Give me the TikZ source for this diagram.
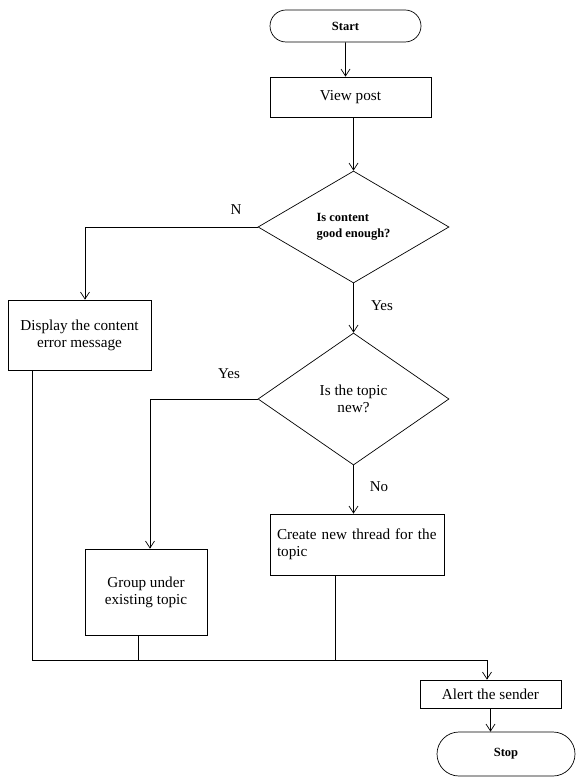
\documentclass[tikz,border=0pt]{standalone}
\usepackage{fontspec}
\setmainfont{Liberation Serif}
\usetikzlibrary{arrows.meta,shapes.geometric,shapes.misc}
\tikzset{
  every picture/.style={draw=black, text=black},
  box/.style={draw, rectangle, inner sep=0pt, font=\fontsize{15.2}{17}\selectfont},
  term/.style={draw, rounded rectangle, inner sep=0pt, font=\fontsize{12.5}{15}\selectfont\bfseries},
  decide/.style={draw, diamond, inner sep=0pt, minimum width=191pt},
  lbl/.style={font=\fontsize{15}{17}\selectfont},
  arr/.style={-{Straight Barb[length=7pt,width=9pt]}},
}
\begin{document}
\begin{tikzpicture}[x=1pt, y=-1pt, line width=0.7pt]
\useasboundingbox (0,0) rectangle (578,783);
% Start and first step
\node[term, minimum width=151pt, minimum height=32pt] (start) at (345.5,26) {Start};
\node[box, minimum width=161pt, minimum height=40pt] (view) at (350.5,97) {View post};
% Decisions
\node[decide, minimum height=112pt, align=left, font=\fontsize{12.5}{16}\selectfont\bfseries]
  (qgood) at (353.5,227) {Is content\\good enough?};
\node[decide, minimum height=132pt, align=center, font=\fontsize{15.2}{17}\selectfont]
  (qnew) at (353.5,399) {Is the topic\\new?};
% Actions
\node[box, minimum width=143pt, minimum height=70pt, align=center] (display) at (79.5,335)
  {Display the content\\error message};
\node[box, minimum width=122pt, minimum height=86pt, align=center] (group) at (146,592)
  {Group under\\existing topic};
\node[box, minimum width=174pt, minimum height=61pt, text width=160pt, align=left] (create) at (357,544.5)
  {Create new thread for the\\topic\\[2pt]};
\node[box, minimum width=141pt, minimum height=28pt] (alert) at (490.5,694) {Alert the sender};
\node[term, minimum width=138pt, minimum height=44pt] (stop) at (506,754) {Stop};
% Connectors
\draw[arr] (start) -- (start |- view.north);
\draw[arr] (qgood.north |- view.south) -- (qgood.north);
\draw[arr] (qgood.west) -| ([xshift=5.5pt]display.north);
\draw[arr] (qgood.south) -- (qnew.north);
\draw[arr] (qnew.west) -| ([xshift=4pt]group.north);
\draw[arr] (qnew.south) -- (qnew.south |- create.north);
% Merge line
\coordinate (join) at (487,660);
\draw ([xshift=25pt]display.south west) |- (join);
\draw ([xshift=54pt]group.south west) -- ([xshift=54pt]group.south west |- join);
\draw ([xshift=66pt]create.south west) -- ([xshift=66pt]create.south west |- join);
\draw[arr] (join) -- (join |- alert.north);
\draw[arr] (alert.south) -- (alert.south |- stop.north);
% Labels
\node[lbl] (lblno) at (236,210) {N};
\node[lbl] (lblyesa) at (382,306) {Yes};
\node[lbl] (lblyesb) at (229,374) {Yes};
\node[lbl] (lblnob) at (379,487) {No};
\end{tikzpicture}
\end{document}
